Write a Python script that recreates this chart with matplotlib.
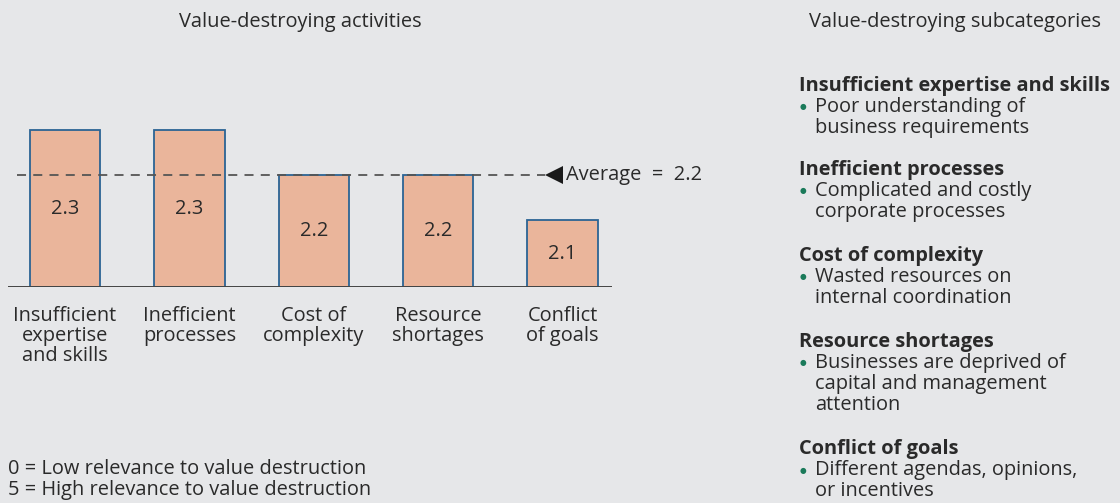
import matplotlib
matplotlib.use("Agg")
import matplotlib.pyplot as plt

categories = ["Insufficient\nexpertise\nand skills", "Inefficient\nprocesses",
              "Cost of\ncomplexity", "Resource\nshortages", "Conflict\nof goals"]
values = [2.3, 2.3, 2.2, 2.2, 2.1]
average = 2.2
value_labels = ["2.3", "2.3", "2.2", "2.2", "2.1"]

sub_headers = ["Insufficient expertise and skills", "Inefficient processes",
               "Cost of complexity", "Resource shortages", "Conflict of goals"]
sub_items = ["Poor understanding of\nbusiness requirements",
             "Complicated and costly\ncorporate processes",
             "Wasted resources on\ninternal coordination",
             "Businesses are deprived of\ncapital and management\nattention",
             "Different agendas, opinions,\nor incentives"]
notes = ["0 = Low relevance to value destruction",
         "5 = High relevance to value destruction"]

BG = "#e6e7e9"
FILL = "#eab59b"
EDGE = "#2b6494"
TXT = "#2a2a2a"
GREEN = "#1a7a5a"
FONT = "Open Sans"
FS = 14.4

plt.rcParams['font.family'] = [FONT, 'DejaVu Sans']

W, H = 1120, 503
fig = plt.figure(figsize=(W / 100, H / 100), dpi=100, facecolor=BG)

ax_left, ax_right = 8, 612
ax_bottom_px, ax_top_px = 287, 85
ax = fig.add_axes([ax_left / W, 1 - ax_bottom_px / H,
                   (ax_right - ax_left) / W, (ax_bottom_px - ax_top_px) / H])
ax.set_facecolor(BG)
ymin = 1.952
ax.set_ylim(ymin, 2.4)
x = list(range(len(values)))
ax.set_xlim(-0.458, 4.397)

ax.bar(x, [v - ymin for v in values], bottom=ymin, width=0.565,
       color=FILL, edgecolor=EDGE, linewidth=1.3, zorder=2)
for xi, v, lab in zip(x, values, value_labels):
    ax.text(xi, (v + ymin) / 2, lab, ha="center", va="center", fontsize=FS,
            color=TXT, zorder=4)

# average dashed line
ax.plot([-0.386, 3.86], [average, average], ls=(0, (5, 4)), color="#555555",
        lw=1.3, zorder=3)
ax.plot([3.93], [average], marker="<", markersize=13, color="#1a1a1a",
        markeredgewidth=0, zorder=4, clip_on=False)
ax.text(4.03, average, "Average  =  2.2", ha="left", va="center",
        fontsize=FS, color=TXT)

for s in ax.spines.values():
    s.set_visible(False)
ax.axhline(ymin, color="#444444", lw=1.4, zorder=3)
ax.set_yticks([])
ax.set_xticks(x)
ax.set_xticklabels(categories, fontsize=FS, color=TXT, linespacing=1.0)
ax.tick_params(axis="x", length=0, pad=14)

# titles
fig.text(300 / W, 1 - 22 / H, "Value-destroying activities", ha="center",
         va="center", fontsize=FS, color=TXT)
fig.text(955 / W, 1 - 22 / H, "Value-destroying subcategories", ha="center",
         va="center", fontsize=FS, color=TXT)

# right column
header_y = [86, 170, 256, 342, 449]
LS = 21
for hy, hdr, item in zip(header_y, sub_headers, sub_items):
    fig.text(799 / W, 1 - hy / H, hdr, ha="left", va="center",
             fontsize=FS, fontweight="bold", color=TXT)
    for k, line in enumerate(item.split("\n")):
        fig.text(815 / W, 1 - (hy + LS * (k + 1)) / H, line, ha="left",
                 va="center", fontsize=FS, color=TXT)
    fig.text(803 / W, 1 - (hy + LS + 1) / H, "\u25CF", ha="center",
             va="center", fontsize=5.5, color=GREEN)

# notes
for i, n in enumerate(notes):
    fig.text(8 / W, 1 - (469 + 21 * i) / H, n, ha="left", va="center",
             fontsize=FS, color=TXT)

fig.savefig("out.png", dpi=100, facecolor=BG)
